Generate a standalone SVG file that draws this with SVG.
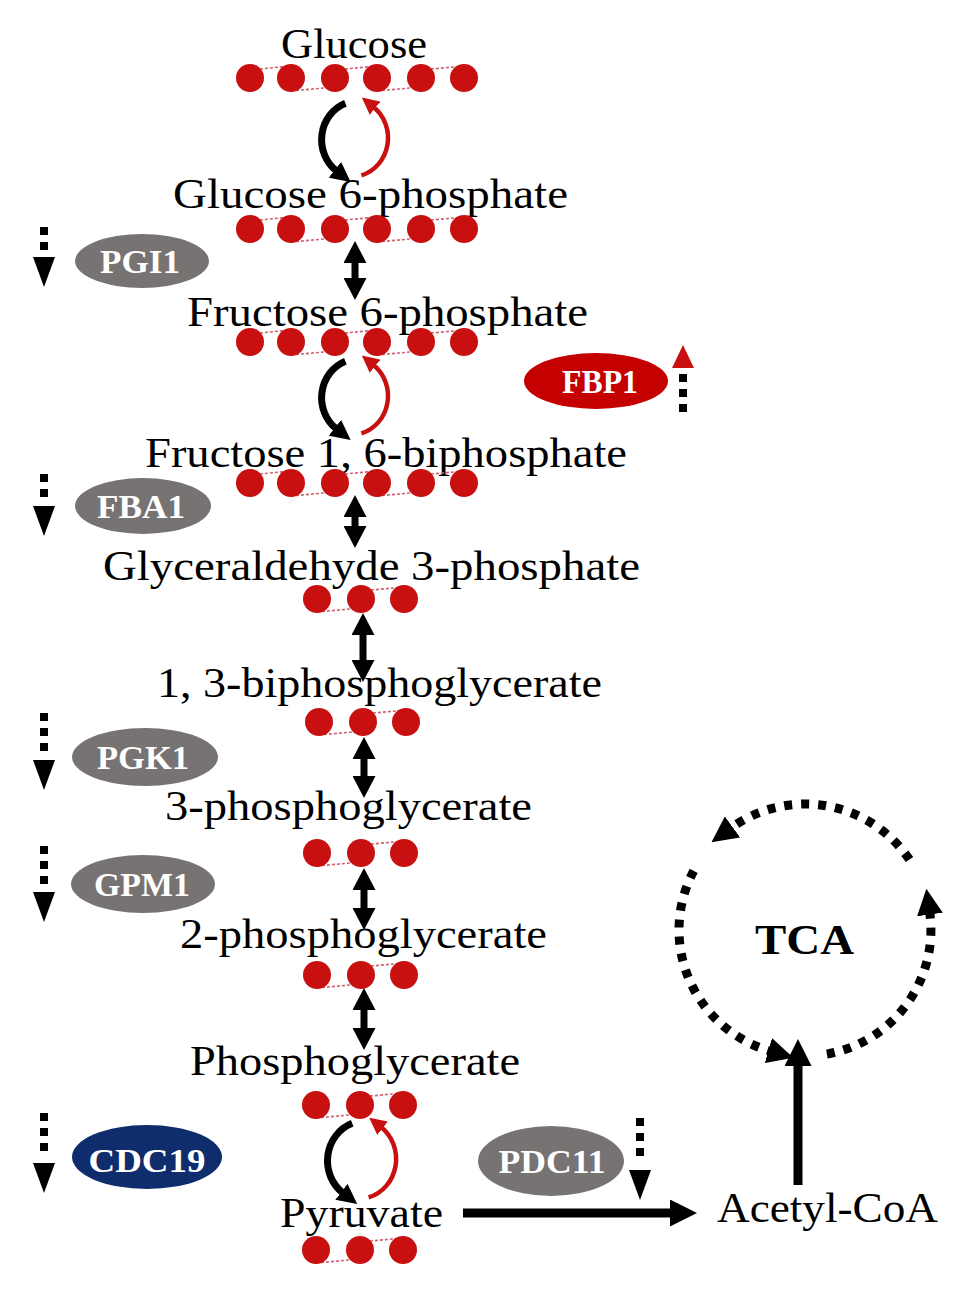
<svg xmlns="http://www.w3.org/2000/svg" xmlns:xlink="http://www.w3.org/1999/xlink" width="974" height="1292" viewBox="0 0 974 1292">
<style>
.t{font-family:"Liberation Serif","Times New Roman",serif;font-size:43px;fill:#000}
.e{font-family:"Liberation Serif","Times New Roman",serif;font-size:34px;font-weight:bold;fill:#fff;text-anchor:middle}
.c{fill:#c81010}
.pl{stroke:#d06070;stroke-width:1.6;stroke-dasharray:3 2;fill:none}
.gray{fill:#787373}
.dbl{stroke:#000;stroke-width:7;marker-start:url(#hd);marker-end:url(#hd)}
.cb{fill:none;stroke:#000;stroke-width:7;marker-end:url(#mb)}
.cr{fill:none;stroke:#c81010;stroke-width:4.5;marker-end:url(#mr)}
.dot{stroke:#000;stroke-width:8;stroke-dasharray:8 7}
.tca{fill:none;stroke:#000;stroke-width:9;stroke-dasharray:8 9;marker-end:url(#mt)}
</style>
<defs>
<marker id="hd" markerUnits="userSpaceOnUse" viewBox="0 0 22 23" markerWidth="22" markerHeight="23" refX="2" refY="11.5" orient="auto-start-reverse"><path d="M0,0 L22,11.5 L0,23 z" fill="#000"/></marker>
<marker id="mb" markerUnits="userSpaceOnUse" viewBox="0 0 20 20" markerWidth="20" markerHeight="20" refX="2" refY="10" orient="auto"><path d="M0,0 L20,10 L0,20 z" fill="#000"/></marker>
<marker id="mr" markerUnits="userSpaceOnUse" viewBox="0 0 17 17" markerWidth="17" markerHeight="17" refX="2" refY="8.5" orient="auto"><path d="M0,0 L17,8.5 L0,17 z" fill="#c81010"/></marker>
<marker id="mbig" markerUnits="userSpaceOnUse" viewBox="0 0 27 27" markerWidth="27" markerHeight="27" refX="2" refY="13.5" orient="auto"><path d="M0,0 L27,13.5 L0,27 z" fill="#000"/></marker>
<marker id="mt" markerUnits="userSpaceOnUse" viewBox="0 0 26 26" markerWidth="26" markerHeight="26" refX="2" refY="13" orient="auto"><path d="M0,0 L26,13 L0,26 z" fill="#000"/></marker>
<path id="tri" d="M-11,0 L11,0 L0,30 z"/>
<path id="triu" d="M-11,0 L11,0 L0,-23 z"/>
<g id="row6">
<line class="pl" x1="250" y1="-8" x2="291" y2="-12"/>
<line class="pl" x1="291" y1="13" x2="335" y2="9"/>
<line class="pl" x1="335" y1="-8" x2="377" y2="-12"/>
<line class="pl" x1="377" y1="13" x2="421" y2="9"/>
<line class="pl" x1="421" y1="-8" x2="464" y2="-12"/>
<circle class="c" cx="250" cy="0" r="14"/><circle class="c" cx="291" cy="0" r="14"/><circle class="c" cx="335" cy="0" r="14"/><circle class="c" cx="377" cy="0" r="14"/><circle class="c" cx="421" cy="0" r="14"/><circle class="c" cx="464" cy="0" r="14"/>
</g>
<g id="row3">
<line class="pl" x1="317" y1="13" x2="361" y2="9"/>
<line class="pl" x1="361" y1="-8" x2="404" y2="-12"/>
<circle class="c" cx="317" cy="0" r="14"/><circle class="c" cx="361" cy="0" r="14"/><circle class="c" cx="404" cy="0" r="14"/>
</g>
</defs>

<rect width="974" height="1292" fill="#fff"/>

<g id="glucose"><text class="t" x="281" y="58" textLength="146" lengthAdjust="spacingAndGlyphs">Glucose</text><use href="#row6" y="78"/></g>
<g id="g6p"><text class="t" x="173" y="208" textLength="395" lengthAdjust="spacingAndGlyphs">Glucose 6-phosphate</text><use href="#row6" y="229"/></g>
<g id="f6p"><text class="t" x="187" y="326" textLength="401" lengthAdjust="spacingAndGlyphs">Fructose 6-phosphate</text><use href="#row6" y="342"/></g>
<g id="f16bp"><text class="t" x="145" y="467" textLength="482" lengthAdjust="spacingAndGlyphs">Fructose 1, 6-biphosphate</text><use href="#row6" y="483"/></g>
<g id="gap"><text class="t" x="103" y="580" textLength="537" lengthAdjust="spacingAndGlyphs">Glyceraldehyde 3-phosphate</text><use href="#row3" y="599"/></g>
<g id="bpg"><text class="t" x="157" y="697" textLength="445" lengthAdjust="spacingAndGlyphs">1, 3-biphosphoglycerate</text><use href="#row3" x="2" y="722"/></g>
<g id="pg3"><text class="t" x="165" y="820" textLength="367" lengthAdjust="spacingAndGlyphs">3-phosphoglycerate</text><use href="#row3" y="853"/></g>
<g id="pg2"><text class="t" x="180" y="948" textLength="367" lengthAdjust="spacingAndGlyphs">2-phosphoglycerate</text><use href="#row3" y="975"/></g>
<g id="pg"><text class="t" x="190" y="1075" textLength="330" lengthAdjust="spacingAndGlyphs">Phosphoglycerate</text><use href="#row3" x="-1" y="1105"/></g>
<g id="pyruvate"><text class="t" x="280" y="1227" textLength="163" lengthAdjust="spacingAndGlyphs">Pyruvate</text><use href="#row3" x="-1" y="1250"/></g>
<g id="acetylcoa"><text class="t" x="717" y="1222" textLength="221" lengthAdjust="spacingAndGlyphs">Acetyl-CoA</text></g>
<g id="tca"><text class="t" x="755" y="954" font-size="46" font-weight="bold" textLength="99" lengthAdjust="spacingAndGlyphs">TCA</text></g>

<g id="pgi1"><ellipse class="gray" cx="142" cy="261" rx="67" ry="27"/><text class="e" x="140" y="273" textLength="80" lengthAdjust="spacingAndGlyphs">PGI1</text></g>
<g id="fbp1"><ellipse fill="#c40000" cx="596" cy="381" rx="72" ry="28"/><text class="e" x="600" y="393" textLength="76" lengthAdjust="spacingAndGlyphs">FBP1</text></g>
<g id="fba1"><ellipse class="gray" cx="143" cy="506" rx="68" ry="28"/><text class="e" x="141" y="518" textLength="88" lengthAdjust="spacingAndGlyphs">FBA1</text></g>
<g id="pgk1"><ellipse class="gray" cx="145" cy="757" rx="73" ry="29"/><text class="e" x="143" y="769" textLength="92" lengthAdjust="spacingAndGlyphs">PGK1</text></g>
<g id="gpm1"><ellipse class="gray" cx="143" cy="884" rx="72" ry="29"/><text class="e" x="142" y="896" textLength="96" lengthAdjust="spacingAndGlyphs">GPM1</text></g>
<g id="cdc19"><ellipse fill="#0f2c6c" cx="147" cy="1157" rx="75" ry="32"/><text class="e" x="147" y="1172" textLength="117" lengthAdjust="spacingAndGlyphs">CDC19</text></g>
<g id="pdc11"><ellipse class="gray" cx="551" cy="1161" rx="73" ry="35"/><text class="e" x="552" y="1173" textLength="107" lengthAdjust="spacingAndGlyphs">PDC11</text></g>

<g id="connectors">
<path class="cb" d="M345.4,103.3 A37,39 0 0 0 336.5,171"/>
<path class="cr" d="M361.4,175.4 A37,39 0 0 0 373.5,107"/>
<path class="cb" d="M345.4,361.3 A37,39 0 0 0 336.5,429"/>
<path class="cr" d="M361.4,433.4 A37,39 0 0 0 373.5,365"/>
<path class="cb" d="M352.2,1123.3 A38,40 0 0 0 343,1193"/>
<path class="cr" d="M368.6,1197.4 A38,40 0 0 0 381,1127"/>
<line class="dbl" x1="355" y1="261" x2="355" y2="280"/>
<line class="dbl" x1="355" y1="515" x2="355" y2="528"/>
<line class="dbl" x1="363" y1="633" x2="363" y2="662"/>
<line class="dbl" x1="364" y1="757" x2="364" y2="778"/>
<line class="dbl" x1="364" y1="888" x2="364" y2="910"/>
<line class="dbl" x1="364" y1="1008" x2="364" y2="1030"/>
<line x1="463" y1="1213" x2="672" y2="1213" stroke="#000" stroke-width="9" marker-end="url(#mbig)"/>
<line x1="798" y1="1185" x2="798" y2="1064" stroke="#000" stroke-width="9" marker-end="url(#mbig)"/>
<path class="tca" d="M909.5,859.6 A126,126 0 0 0 730.9,828.1"/>
<path class="tca" d="M693.7,870.9 A126,126 0 0 0 770.3,1051.1"/>
<path class="tca" d="M826.9,1054.1 A126,126 0 0 0 929.7,912.5"/>
<line class="dot" x1="44" y1="227" x2="44" y2="250"/><use href="#tri" x="44" y="257"/>
<line class="dot" x1="44" y1="474" x2="44" y2="497"/><use href="#tri" x="44" y="506"/>
<line class="dot" x1="44" y1="713" x2="44" y2="751"/><use href="#tri" x="44" y="760"/>
<line class="dot" x1="44" y1="846" x2="44" y2="884"/><use href="#tri" x="44" y="892"/>
<line class="dot" x1="44" y1="1113" x2="44" y2="1151"/><use href="#tri" x="44" y="1163"/>
<line class="dot" x1="640" y1="1118" x2="640" y2="1160"/><use href="#tri" x="640" y="1170"/>
<line class="dot" x1="683" y1="374" x2="683" y2="412" stroke="#c81010"/><use href="#triu" x="683" y="368" fill="#c81010"/>
</g>
</svg>
